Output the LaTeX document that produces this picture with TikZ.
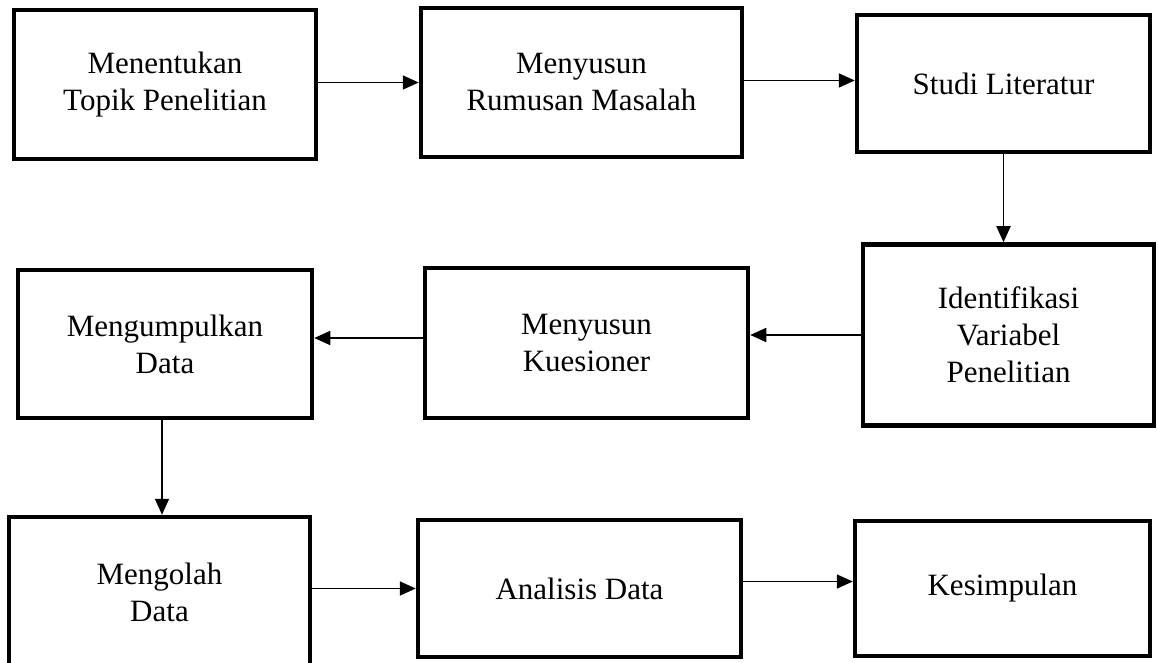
\documentclass[tikz,border=0pt]{standalone}
\usepackage{fontspec}
\setmainfont{Liberation Serif}
\usetikzlibrary{arrows.meta}

\begin{document}
\begin{tikzpicture}[x=1pt,y=1pt,
    box/.style={draw,line width=4.5pt,inner sep=0pt,align=center,
      font=\fontsize{31}{37}\selectfont},
    arr/.style={line width=1.8pt,-{Triangle[length=16pt,width=14pt]}}]
    \useasboundingbox (0,0) rectangle (1158,662);
    % baris atas
    \node[box,minimum width=302,minimum height=149] (topik) at (165,577.5) {Menentukan\\Topik Penelitian};
    \node[box,minimum width=321,minimum height=149] (rumusan) at (581.5,579.5) {Menyusun\\Rumusan Masalah};
    \node[box,minimum width=293,minimum height=137] (studi) at (1003.5,578.5) {Studi Literatur};
    % baris tengah
    \node[box,minimum width=291,minimum height=181] (identifikasi) at (1008.5,327) {Identifikasi\\Variabel\\Penelitian};
    \node[box,minimum width=323,minimum height=150] (kuesioner) at (586.5,319) {Menyusun\\Kuesioner};
    \node[box,minimum width=294,minimum height=148] (kumpul) at (165,318) {Mengumpulkan\\Data};
    % baris bawah
    \node[box,minimum width=301,minimum height=150] (olah) at (159.5,70) {Mengolah\\Data};
    \node[box,minimum width=323,minimum height=137] (analisis) at (579.5,73.5) {Analisis Data};
    \node[box,minimum width=295,minimum height=135] (simpulan) at (1002.5,73.5) {Kesimpulan};

    \draw[arr] ([yshift=2]topik.east) -- ([yshift=2]topik.east -| rumusan.west);
    \draw[arr] ([yshift=2]rumusan.east) -- ([yshift=2]rumusan.east -| studi.west);
    \draw[arr] (studi.south) -- (studi.south |- identifikasi.north);
    \draw[arr] (identifikasi.west) -- (identifikasi.west -| kuesioner.east);
    \draw[arr] ([yshift=5]kuesioner.west) -- ([yshift=5]kuesioner.west -| kumpul.east);
    \draw[arr] ([xshift=-3]kumpul.south) -- ([xshift=-3]kumpul.south |- olah.north);
    \draw[arr] (analisis.west -| olah.east) -- (analisis.west);
    \draw[arr] ([yshift=7]analisis.east) -- ([yshift=7]analisis.east -| simpulan.west);
\end{tikzpicture}
\end{document}
